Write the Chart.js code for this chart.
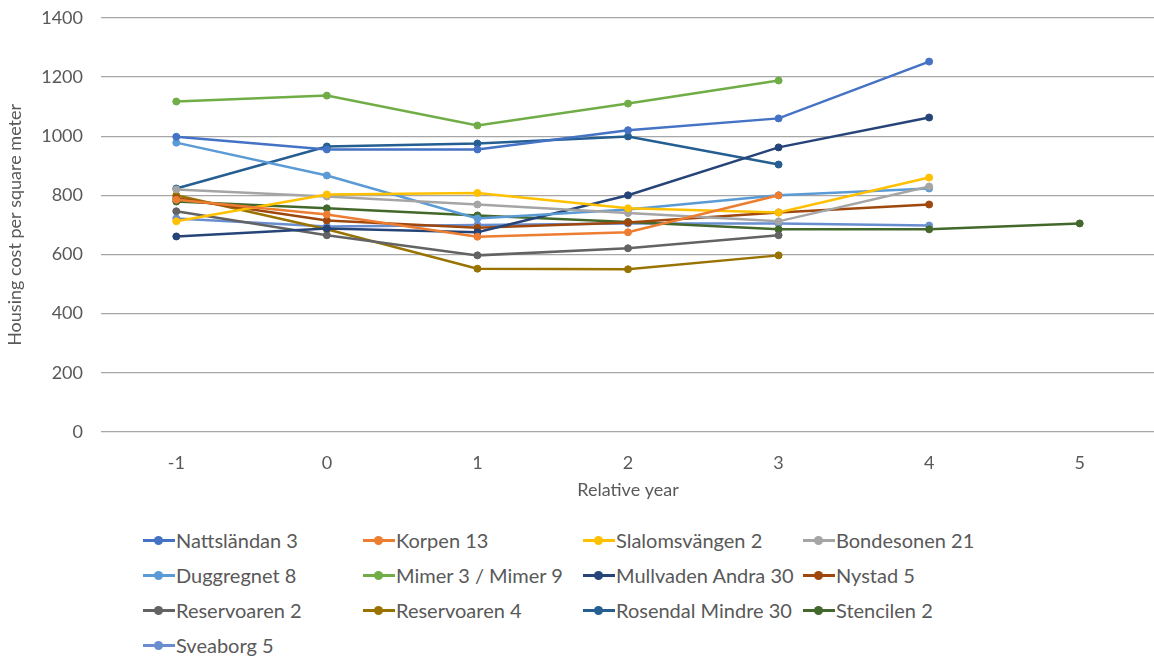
<!DOCTYPE html>
<html>
<head>
<meta charset="utf-8">
<script src="https://cdn.jsdelivr.net/npm/chart.js@4"></script>
<style>
    body { margin: 0; background: #fff; font-family: Lato, 'Open Sans', sans-serif; overflow: hidden; }
    #wrap { position: relative; width: 1160px; height: 516px; margin-top: -11px; }
    #legend {
        display: grid;
        grid-template-columns: 220px 220px 220px 220px;
        margin-left: 143px;
        margin-top: 23px;
        row-gap: 11px;
    }
    .legend-item { display: flex; align-items: center; font-size: 20px; color: #595959; height: 24px; white-space: nowrap; }
    .legend-mark { position: relative; width: 32px; height: 10px; margin-right: 1px; flex: none; }
    .legend-mark .ln { position: absolute; left: 0; right: 0; top: 4px; height: 3px; }
    .legend-mark .dt { position: absolute; left: 11px; top: 1px; width: 9px; height: 9px; border-radius: 50%; }
</style>
</head>
<body>
<div id="wrap"><canvas id="chart"></canvas></div>
<div id="legend"></div>
<script>
// Relative year categories
const years = ['-1', '0', '1', '2', '3', '4', '5'];
const yTicks = [0, 200, 400, 600, 800, 1000, 1200, 1400];

const seriesNames = [
    'Nattsländan 3', 'Korpen 13', 'Slalomsvängen 2', 'Bondesonen 21',
    'Duggregnet 8', 'Mimer 3 / Mimer 9', 'Mullvaden Andra 30', 'Nystad 5',
    'Reservoaren 2', 'Reservoaren 4', 'Rosendal Mindre 30', 'Stencilen 2',
    'Sveaborg 5'
];

const nattslandan = [998, 955, 955, 1020, 1060, 1252, null];
const korpen = [785, 735, 660, 675, 800, null, null];
const slalomsvangen = [712, 803, 808, 756, 742, 860, null];
const bondesonen = [820, 796, 769, 740, 712, 830, null];
const duggregnet = [978, 867, 722, 752, 800, 823, null];
const mimer = [1117, 1137, 1036, 1110, 1188, null, null];
const mullvaden = [661, 688, 675, 800, 962, 1063, null];
const nystad = [790, 715, 690, 708, 742, 769, null];
const reservoaren2 = [746, 665, 597, 621, 665, null, null];
const reservoaren4 = [800, 685, 552, 550, 597, null, null];
const rosendal = [823, 965, 975, 999, 904, null, null];
const stencilen = [779, 756, 732, 710, 685, 685, 705];
const sveaborg = [722, 695, 700, 705, 705, 698, null];

const seriesData = [nattslandan, korpen, slalomsvangen, bondesonen, duggregnet, mimer,
    mullvaden, nystad, reservoaren2, reservoaren4, rosendal, stencilen, sveaborg];

const colors = ['#4472C4', '#ED7D31', '#FFC000', '#A5A5A5', '#5B9BD5', '#70AD47',
    '#264478', '#9E480E', '#636363', '#997300', '#255E91', '#43682B', '#698ED0'];

const textColor = '#595959';
const gridColor = '#a6a6a6';

document.addEventListener('DOMContentLoaded', () => {
    initChart();
    buildLegend();
});

function initChart() {
    const ctx = document.getElementById('chart').getContext('2d');

    new Chart(ctx, {
        type: 'line',
        data: {
            labels: years,
            datasets: seriesNames.map((name, i) => ({
                label: name,
                data: seriesData[i],
                borderColor: colors[i],
                backgroundColor: colors[i],
                borderWidth: 2.5,
                pointRadius: 3.5,
                pointBorderWidth: 1,
                fill: false,
                tension: 0,
                spanGaps: false
            }))
        },
        options: {
            responsive: true,
            maintainAspectRatio: false,
            animation: false,
            layout: {
                padding: { top: 0, right: 0, left: 0, bottom: 0 }
            },
            plugins: {
                legend: { display: false },
                tooltip: { enabled: false }
            },
            scales: {
                x: {
                    offset: true,
                    grid: { display: false, drawTicks: false },
                    border: { display: false },
                    ticks: {
                        color: textColor,
                        padding: 20,
                        font: { family: 'Lato', size: 18 }
                    },
                    title: {
                        display: true,
                        text: 'Relative year',
                        color: textColor,
                        padding: { top: 6 },
                        font: { family: 'Lato', size: 18 }
                    },
                    afterFit: scale => { scale.height = 73; }
                },
                y: {
                    min: 0,
                    max: 1400,
                    afterBuildTicks: scale => {
                        scale.ticks = yTicks.map(v => ({ value: v }));
                    },
                    grid: {
                        color: gridColor,
                        lineWidth: 1.2,
                        drawTicks: false
                    },
                    border: { display: false },
                    ticks: {
                        color: textColor,
                        padding: 18,
                        font: { family: 'Lato', size: 18 },
                        callback: value => String(value)
                    },
                    title: {
                        display: true,
                        text: 'Housing cost per square meter',
                        color: textColor,
                        padding: { top: 4, bottom: 4 },
                        font: { family: 'Lato', size: 18 }
                    },
                    afterFit: scale => { scale.width = 101; }
                }
            }
        }
    });
}

function buildLegend() {
    const legendEl = document.getElementById('legend');
    seriesNames.forEach((name, i) => {
        const item = document.createElement('div');
        item.className = 'legend-item';
        item.innerHTML = `
            <span class="legend-mark"><span class="ln" style="background:${colors[i]}"></span><span class="dt" style="background:${colors[i]}"></span></span>
            <span>${name}</span>
        `;
        legendEl.appendChild(item);
    });
}
</script>
</body>
</html>
